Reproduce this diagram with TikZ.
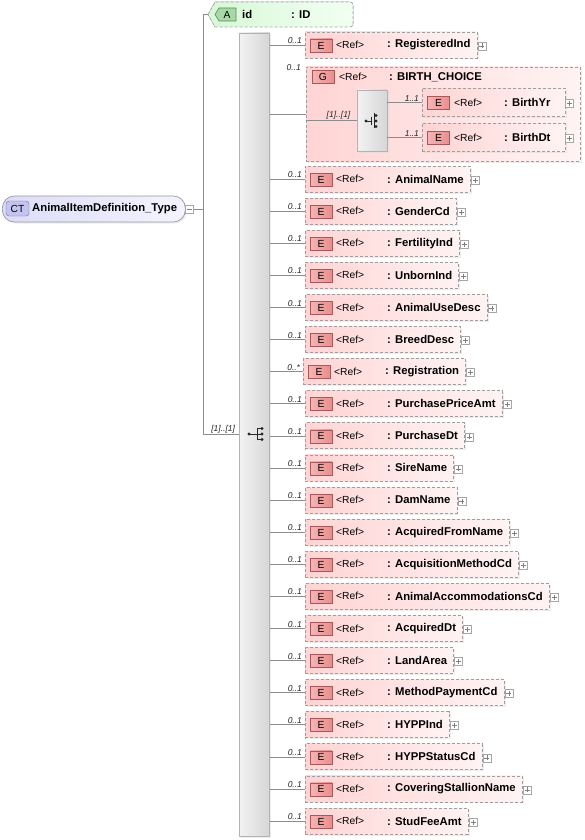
\documentclass[tikz,border=0pt]{standalone}
\usepackage{fontspec}
\setmainfont{Liberation Sans}
\usetikzlibrary{shadows,calc,backgrounds}
\definecolor{elemL}{HTML}{FFD4D4}
\definecolor{elemR}{HTML}{FFF3F3}
\definecolor{badgeL}{HTML}{F7B4B4}
\definecolor{badgeR}{HTML}{E88E8E}
\definecolor{badgeB}{HTML}{A85858}
\definecolor{attrL}{HTML}{D8F8D8}
\definecolor{attrR}{HTML}{F2FFF2}
\definecolor{abadge}{HTML}{A8D8A8}
\definecolor{abadgeB}{HTML}{5A8A5A}
\definecolor{ctL}{HTML}{DCDCF8}
\definecolor{ctR}{HTML}{F4F4FF}
\definecolor{ctbadge}{HTML}{C4C4F0}
\definecolor{ctB}{HTML}{7070A8}
\tikzset{
  conn/.style={draw=black!45, line width=0.6pt},
  elem/.style={draw=black!38, dash pattern=on 3pt off 2pt, line width=0.7pt,
    left color=elemL, right color=elemR, minimum height=26pt, inner sep=0pt,
    anchor=west, drop shadow={shadow xshift=1.5pt, shadow yshift=-1.5pt, fill=black!14}},
  ebadge/.style={draw=badgeB, line width=0.6pt, left color=badgeL, right color=badgeR,
    minimum width=22pt, minimum height=13pt, inner sep=0pt, font=\fontsize{10.3}{12}\selectfont},
  reft/.style={anchor=west, inner sep=0pt, font=\fontsize{10.3}{12}\selectfont},
  namet/.style={anchor=west, inner sep=0pt, font=\fontsize{11.3}{13}\selectfont\bfseries},
  card/.style={anchor=south east, inner sep=1pt, font=\fontsize{8.5}{10}\selectfont\itshape, text=black!85},
  plusbox/.style={draw=black!35, fill=white, minimum size=8pt, inner sep=0pt, line width=0.5pt},
  bar/.style={draw=black!30, line width=0.6pt, left color=black!5, right color=black!16,
    inner sep=0pt, drop shadow={shadow xshift=1.5pt, shadow yshift=-1.5pt, fill=black!14}},
}
\begin{document}
\begin{tikzpicture}[x=1pt,y=-1pt]
\useasboundingbox (0,0) rectangle (585,840);

% root complex type
\node[draw=black!40, line width=0.7pt, rounded corners=12pt, left color=ctL, right color=ctR,
  minimum width=183pt, minimum height=26pt, anchor=west, inner sep=0pt,
  drop shadow={shadow xshift=1.5pt, shadow yshift=-1.5pt, fill=black!14}] (root) at (2,209) {};
\node[draw=ctB, fill=ctbadge, rounded corners=3pt, minimum width=23pt, minimum height=15pt,
  inner sep=0pt, font=\fontsize{10.3}{12}\selectfont] (ctb) at (17.5,208.5) {CT};
\node[namet] (rootname) at (32,209) {AnimalItemDefinition\_Type};
\node[plusbox] (minus) at (189.5,209) {};
\draw[black!50, line width=0.5pt] ([xshift=-2.5pt]minus.center) -- ([xshift=2.5pt]minus.center);

% junction
\coordinate (j) at (203,209);
\coordinate (atip) at (208,14.5);
\draw[conn] (minus.east) -- (j);
\draw[conn] (j |- atip) -- (atip);
\draw[conn] (j |- atip) -- (j |- 434,434);

% attribute
\filldraw[draw=black!35, dash pattern=on 3pt off 2pt, line width=0.7pt, left color=attrL, right color=attrR]
  (atip) -- (215,2) -- (350,2) arc[start angle=90, end angle=0, radius=3pt] -- (353,24)
  arc[start angle=0, end angle=-90, radius=3pt] -- (215,27) -- cycle;
\filldraw[draw=abadgeB, fill=abadge, line width=0.6pt]
  (215,14.5) -- (219,8) -- (236,8) -- (236,21) -- (219,21) -- cycle;
\node[inner sep=0pt, font=\fontsize{10.3}{12}\selectfont] (ab) at (227,14.5) {A};
\node[namet] (aname) at (242,14.5) {id};
\node[namet] (atype) at (291,14.5) {: ID};

% sequence bar
\node[bar, minimum width=30pt, minimum height=803pt] (seq) at (254.5,434.5) {};
\draw[conn] (j |- seq.west) -- (seq.west) node[card, pos=0.92] {[1]..[1]};
% sequence icon
\begin{scope}[black!85, line width=0.7pt]
  \fill (249,434) circle (1.6pt);
  \draw (249,434) -- (257,434);
  \draw (257,428.5) -- (257,439.5);
  \draw (257,428.5) -- (262,428.5) (257,434) -- (262,434) (257,439.5) -- (262,439.5);
  \fill (262,428.5) circle (1.6pt) (262,434) circle (1.6pt) (262,439.5) circle (1.6pt);
\end{scope}

% group BIRTH_CHOICE
\node[elem, minimum width=274pt, minimum height=94pt] (grp) at (306,114) {};
\draw[conn] (seq.east |- grp.west) -- (grp.west);
\node[card] at (302,72) {0..1};
\node[ebadge] (gb) at (323,77) {G};
\node[reft] at (339,77) {<Ref>};
\node[namet] at (389,77) {: BIRTH\_CHOICE};
\node[bar, minimum width=30pt, minimum height=61pt] (ch) at (372,120.5) {};
\draw[conn] (grp.west |- ch.west) -- (ch.west) node[card, pos=0.9] {[1]..[1]};
\begin{scope}[black!85, line width=0.7pt]
  \fill (366,121) circle (1.6pt);
  \draw (366,121) -- (371,121);
  \draw (371,117) -- (371,125);
  \fill (376,115.5) circle (1.6pt) (376,121) circle (1.6pt) (376,126.5) circle (1.6pt);
  \draw (374,113.5) -- (374,128.5);
\end{scope}
\foreach \nm/\yy/\k in {BirthYr/102.5/y, BirthDt/137.5/d}{
  \node[elem, minimum width=143pt, minimum height=28pt] (b\k) at (422,\yy) {};
  \node[ebadge] (bb\k) at (438.5,\yy+0.5) {E};
  \node[reft] at (454,\yy) {<Ref>};
  \node[namet] at (504,\yy) {: \nm};
  \node[plusbox] (bp\k) at (569.5,\yy+1) {};
  \draw[black!50, line width=0.5pt] ([xshift=-2.5pt]bp\k.center) -- ([xshift=2.5pt]bp\k.center)
    ([yshift=-2.5pt]bp\k.center) -- ([yshift=2.5pt]bp\k.center);
  \draw[conn] (ch.east |- b\k.west) -- (b\k.west) node[card, pos=0.95] {1..1};
}

% elements of the sequence
\foreach \nm/\yy/\cd/\xs [count=\i] in {
  RegisteredInd/45/0..1/305,
  AnimalName/179/0..1/305, GenderCd/211.1/0..1/305, FertilityInd/243.2/0..1/305,
  UnbornInd/275.3/0..1/305, AnimalUseDesc/307.4/0..1/305, BreedDesc/339.5/0..1/305,
  Registration/371.6/0..*/303, PurchasePriceAmt/403.7/0..1/305, PurchaseDt/435.8/0..1/305,
  SireName/467.9/0..1/305, DamName/500/0..1/305, AcquiredFromName/532.1/0..1/305,
  AcquisitionMethodCd/564.2/0..1/305, AnimalAccommodationsCd/596.3/0..1/305,
  AcquiredDt/628.4/0..1/305, LandArea/660.5/0..1/305, MethodPaymentCd/692.6/0..1/305,
  HYPPInd/724.7/0..1/305, HYPPStatusCd/756.8/0..1/305, CoveringStallionName/788.9/0..1/305,
  StudFeeAmt/821/0..1/305}{
  \node[ebadge] (eb\i) at (\xs+16,\yy+0.5) {E};
  \node[reft] (r\i) at (\xs+31,\yy) {<Ref>};
  \node[namet] (n\i) at (\xs+82,\yy) {: \nm};
  \begin{scope}[on background layer]
    \path let \p1=(n\i.east) in
      node[elem, minimum width=\x1-\xs*1pt+6pt] (e\i) at (\xs,\yy) {};
  \end{scope}
  \node[plusbox] (p\i) at ([xshift=4.5pt, yshift=-1pt]e\i.east) {};
  \draw[black!50, line width=0.5pt] ([xshift=-2.5pt]p\i.center) -- ([xshift=2.5pt]p\i.center)
    ([yshift=-2.5pt]p\i.center) -- ([yshift=2.5pt]p\i.center);
  \draw[conn] (seq.east |- e\i.west) -- (e\i.west) node[card, pos=0.95] {\cd};
}
\end{tikzpicture}
\end{document}
